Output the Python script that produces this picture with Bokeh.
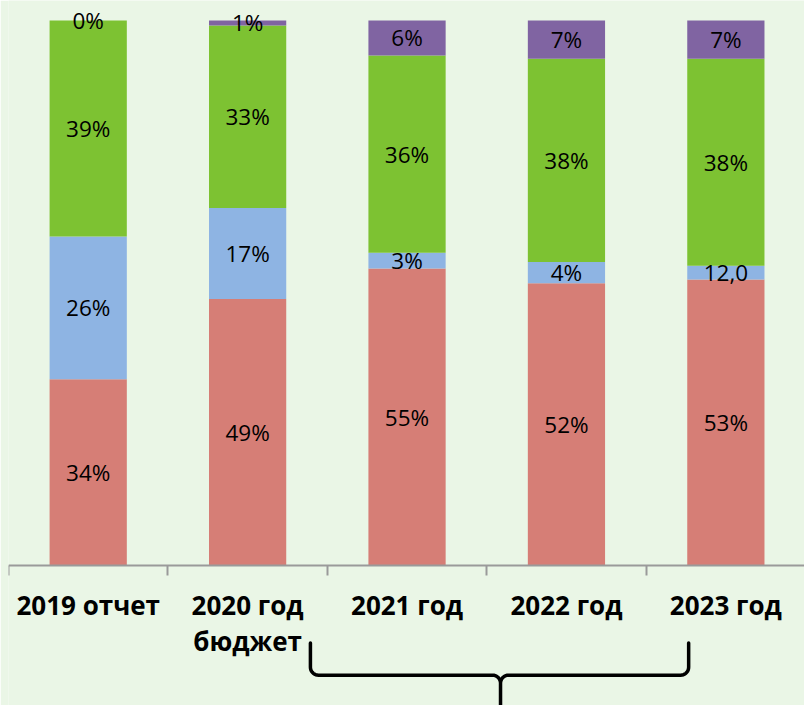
import numpy as np
from bokeh.plotting import figure
from bokeh.models import Range1d, FixedTicker, ColumnDataSource
from bokeh.core.properties import value
from bokeh.embed import file_html
from bokeh.resources import INLINE

# ---- data ----
categories = ["2019 отчет", "2020 год\nбюджет", "2021 год", "2022 год", "2023 год"]
red = [34.2, 48.9, 54.5, 51.8, 52.5]
blue = [26.2, 16.7, 2.9, 3.9, 2.5]
green = [39.6, 33.5, 36.2, 37.3, 38.0]
purple = [0.0, 0.9, 6.4, 7.0, 7.0]
red_lbl = ["34%", "49%", "55%", "52%", "53%"]
blue_lbl = ["26%", "17%", "3%", "4%", "12,0"]
green_lbl = ["39%", "33%", "36%", "38%", "38%"]
purple_lbl = ["0%", "1%", "6%", "7%", "7%"]

series = ["red", "blue", "green", "purple"]
colors = ["#D67E76", "#8EB4E3", "#7DC232", "#8064A2"]

# ---- layout (reference pixels scaled into the canvas) ----
BG = "#EAF6E6"
W, H = 804, 705
sx, sy = W / 812, H / 721
left_px = 8
top_px = 20
axis_px = 578 * sy
cat_px = 161 * sx
unit_px = (axis_px - top_px) / 100
x = [i + 0.5 for i in range(len(categories))]
y_start = -(H - axis_px) / unit_px
y_end = 100 + top_px / unit_px

p = figure(width=W, height=H, x_range=Range1d(0, (W - left_px) / cat_px), y_range=Range1d(y_start, y_end),
           output_backend="svg", toolbar_location=None, y_axis_location=None,
           min_border_left=left_px, min_border_right=0, min_border_top=0, min_border_bottom=0,
           background_fill_color=BG, border_fill_color=BG, outline_line_color=None)
p.grid.visible = False

src = ColumnDataSource(dict(x=x, red=red, blue=blue, green=green, purple=purple))
p.vbar_stack(series, x="x", width=78 / 161, color=colors, line_color=None, source=src)

# data labels at segment centres
vals = np.array([red, blue, green, purple])
cum = np.cumsum(vals, axis=0)
mids = cum - vals / 2
for lbls, ys in zip([red_lbl, blue_lbl, green_lbl, purple_lbl], mids):
    p.text(x=x, y=list(ys), text=lbls, text_align="center", text_baseline="middle",
           text_font=value("Open Sans"), text_font_size="22.5px", text_color="black")

ax = p.xaxis[0]
ax.fixed_location = 0
ax.ticker = FixedTicker(ticks=x, minor_ticks=list(range(len(categories) + 1)))
ax.major_label_overrides = {xi: c for xi, c in zip(x, categories)}
ax.major_tick_line_color = None
ax.major_tick_out = 0
ax.major_tick_in = 0
ax.minor_tick_line_color = "#9A9A9A"
ax.minor_tick_line_width = 2
ax.minor_tick_out = 10
ax.minor_tick_in = 0
ax.axis_line_color = "#9A9A9A"
ax.axis_line_width = 2
ax.major_label_text_font = "Open Sans"
ax.major_label_text_font_size = "26px"
ax.major_label_text_font_style = "bold"
ax.major_label_text_color = "black"
ax.major_label_text_line_height = 1.0
ax.major_label_standoff = 11

# curly bracket under the forecast years (2021-2023), given in reference pixels
def px2x(px): return (px * sx - left_px) / cat_px
def px2y(py): return (axis_px - py * sy) / unit_px

bx_left, bx_mid, bx_right = px2x(313), px2x(505), px2x(695)
by_top, by_h, by_tip = px2y(657), px2y(690), px2y(724)
rx, ry = 8 / cat_px, 8 / unit_px

def arc(cx, cy, a0, a1, n=10):
    t = np.linspace(a0, a1, n)
    return list(cx + rx * np.cos(t)), list(cy + ry * np.sin(t))

bxs, bys = [bx_left], [by_top]
a_x, a_y = arc(bx_left + rx, by_h + ry, np.pi, 1.5 * np.pi); bxs += a_x; bys += a_y
a_x, a_y = arc(bx_mid - rx, by_h - ry, 0.5 * np.pi, 0.0); bxs += a_x; bys += a_y
bxs += [bx_mid, bx_mid]; bys += [by_tip, by_h - ry]
a_x, a_y = arc(bx_mid + rx, by_h - ry, np.pi, 0.5 * np.pi); bxs += a_x; bys += a_y
a_x, a_y = arc(bx_right - rx, by_h + ry, 1.5 * np.pi, 2 * np.pi); bxs += a_x; bys += a_y
bxs += [bx_right]; bys += [by_top]
p.line(bxs, bys, line_color="black", line_width=3.5, line_join="round", line_cap="round")

open("out.html", "w").write(file_html(p, INLINE))
